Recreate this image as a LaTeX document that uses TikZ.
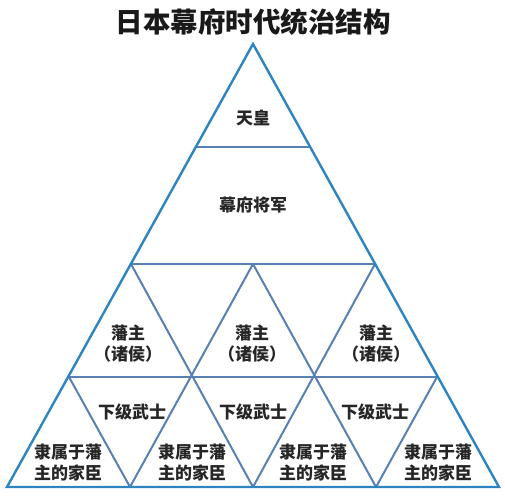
\documentclass[tikz,border=0pt]{standalone}
\usepackage{fontspec}
\newfontfamily\cjk{Noto Sans CJK SC}
\definecolor{outerblue}{RGB}{46,132,192}
\definecolor{innerblue}{RGB}{88,128,178}
\begin{document}
\begin{tikzpicture}[x=1pt,y=-1pt,
  outerline/.style={draw=outerblue,line width=2.4pt,line join=miter},
  innerline/.style={draw=innerblue,line width=2pt},
  lbl/.style={font=\cjk\bfseries\fontsize{17}{21}\selectfont,align=center,inner sep=0pt,text=black!85},
  titlestyle/.style={font=\cjk\bfseries\fontsize{27.5}{30}\selectfont,inner sep=0pt,text=black!90}]
\useasboundingbox (0,0) rectangle (505,497);
% grid coordinates
\coordinate (A) at (253,44);
\coordinate (L1) at (196,147); \coordinate (R1) at (310,147);
\coordinate (a0) at (131,264); \coordinate (a1) at (253,264); \coordinate (a2) at (375,264);
\coordinate (b0) at (69,377); \coordinate (b1) at (192,377); \coordinate (b2) at (314,377); \coordinate (b3) at (437,377);
\coordinate (c0) at (7,487); \coordinate (c1) at (130,487); \coordinate (c2) at (253,487); \coordinate (c3) at (376,487); \coordinate (c4) at (499,487);
% inner lines
\draw[innerline] (L1) -- (R1);
\draw[innerline] (a0) -- (a2);
\draw[innerline] (b0) -- (b3);
\draw[innerline] (a0) -- (c2);
\draw[innerline] (a1) -- (c3);
\draw[innerline] (a1) -- (c1);
\draw[innerline] (a2) -- (c2);
\draw[innerline] (b0) -- (c1);
\draw[innerline] (b3) -- (c3);
% outer triangle
\draw[outerline] (A) -- (c4) -- (c0) -- cycle;
% title
\node[titlestyle] (title) at (253,22) {日本幕府时代统治结构};
% labels
\node[lbl] (tenno) at (253,118) {天皇};
\node[lbl] (shogun) at (253,205) {幕府将军};
\node[lbl] (han1) at (128,344) {藩主\\（诸侯）};
\node[lbl] (han2) at (252,344) {藩主\\（诸侯）};
\node[lbl] (han3) at (376,344) {藩主\\（诸侯）};
\node[lbl] (bushi1) at (132,412) {下级武士};
\node[lbl] (bushi2) at (253,412) {下级武士};
\node[lbl] (bushi3) at (375,412) {下级武士};
\node[lbl] (kashin1) at (68,463) {隶属于藩\\主的家臣};
\node[lbl] (kashin2) at (192,463) {隶属于藩\\主的家臣};
\node[lbl] (kashin3) at (313,463) {隶属于藩\\主的家臣};
\node[lbl] (kashin4) at (438,463) {隶属于藩\\主的家臣};
\end{tikzpicture}
\end{document}
